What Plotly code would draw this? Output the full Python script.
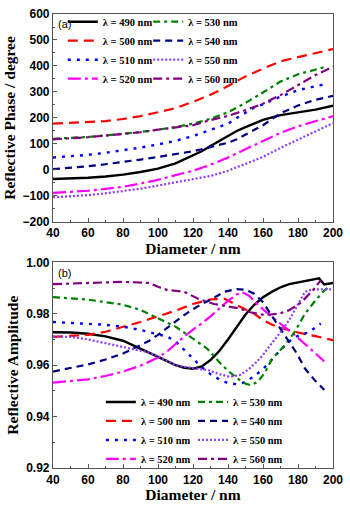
import plotly.graph_objects as go

# Panel (a): reflective phase (degree) vs diameter (nm)
phase_x = {
    490: [40, 50, 60, 70, 80, 90, 100, 110, 120, 125, 130, 135, 140, 145, 150, 155, 160, 170, 180, 190, 200],
    500: [40, 50, 60, 70, 80, 90, 100, 110, 120, 130, 140, 150, 160, 170, 180, 190, 200],
    510: [40, 50, 60, 70, 80, 90, 100, 110, 120, 130, 140, 145, 150, 155, 160, 170, 180, 188, 194],
    520: [40, 50, 60, 70, 80, 90, 100, 110, 120, 130, 140, 150, 160, 170, 180, 190, 200],
    530: [40, 50, 60, 70, 80, 90, 100, 110, 120, 130, 140, 150, 160, 170, 180, 190, 196],
    540: [40, 50, 60, 70, 80, 90, 100, 110, 120, 130, 140, 145, 150, 155, 160, 165, 170, 180, 190, 200],
    550: [40, 50, 60, 70, 80, 90, 100, 110, 120, 130, 140, 150, 160, 170, 180, 190, 200],
    560: [40, 50, 60, 70, 80, 90, 100, 110, 120, 130, 140, 150, 160, 170, 180, 190, 200],
}
phase_y = {
    490: [-35, -33, -30, -25, -18, -8, 5, 25, 55, 72, 92, 112, 132, 150, 165, 178, 193, 211, 222, 232, 247],
    500: [178, 181, 184, 188, 196, 207, 222, 238, 262, 289, 323, 360, 390, 418, 434, 450, 465],
    510: [48, 52, 58, 66, 75, 86, 98, 112, 130, 153, 178, 200, 220, 240, 253, 282, 307, 320, 328],
    520: [-88, -85, -80, -73, -65, -52, -38, -20, -3, 20, 48, 80, 112, 143, 168, 188, 207],
    530: [120, 123, 127, 133, 139, 146, 155, 165, 178, 197, 222, 258, 298, 340, 368, 388, 397],
    540: [3, 8, 14, 22, 30, 40, 50, 60, 72, 88, 105, 118, 135, 155, 172, 195, 218, 248, 270, 285],
    550: [-105, -102, -97, -90, -82, -72, -60, -47, -35, -23, -3, 22, 50, 85, 117, 150, 180],
    560: [118, 121, 126, 132, 138, 145, 155, 163, 172, 192, 208, 230, 255, 288, 327, 365, 397],
}

# Panel (b): reflective amplitude vs diameter (nm)
amp_x = {
    490: [40, 50, 60, 70, 80, 90, 100, 110, 115, 120, 125, 130, 135, 140, 145, 150, 155, 160, 165, 170, 175, 180, 186, 192, 195, 200],
    500: [40, 50, 60, 70, 80, 90, 100, 110, 120, 130, 138, 145, 150, 155, 160, 165, 170, 180, 190, 200],
    510: [40, 50, 60, 70, 80, 90, 100, 105, 110, 115, 120, 125, 130, 135, 140, 146, 150, 155, 160, 163, 170, 177, 182, 186, 193],
    520: [40, 50, 60, 70, 80, 90, 100, 105, 110, 115, 120, 125, 130, 135, 140, 145, 148, 152, 157, 165, 172, 178, 184, 190, 195],
    530: [40, 50, 60, 70, 80, 90, 100, 110, 120, 128, 136, 140, 145, 150, 153, 157, 161, 165, 173, 178, 184, 190, 195, 197],
    540: [40, 50, 60, 70, 80, 90, 95, 100, 106, 112, 119, 125, 131, 138, 145, 150, 155, 160, 165, 173, 179, 184, 190, 195],
    550: [40, 50, 60, 66, 75, 85, 94, 100, 110, 120, 129, 135, 141, 147, 152, 156, 160, 165, 170, 175, 180, 184, 188, 200],
    560: [40, 50, 60, 70, 80, 90, 95, 100, 105, 115, 123, 132, 142, 147, 152, 161, 169, 175, 182, 189, 193],
}
amp_y = {
    490: [0.9728, 0.9727, 0.9722, 0.9712, 0.9695, 0.9665, 0.9632, 0.9600, 0.9590, 0.9586, 0.9595, 0.9620, 0.9655,
          0.9700, 0.9750, 0.9797, 0.9835, 0.9864, 0.9885, 0.9903, 0.9915, 0.9921, 0.9928, 0.9938, 0.9914, 0.9920],
    500: [0.9710, 0.9714, 0.9718, 0.9730, 0.9748, 0.9768, 0.9790, 0.9812, 0.9838, 0.9856, 0.9858, 0.9835, 0.9818,
          0.9800, 0.9775, 0.9758, 0.9745, 0.9727, 0.9713, 0.9697],
    510: [0.9768, 0.9765, 0.9762, 0.9757, 0.9750, 0.9737, 0.9720, 0.9712, 0.9693, 0.9658, 0.9625, 0.9592, 0.9565,
          0.9545, 0.9530, 0.9525, 0.9535, 0.9557, 0.9585, 0.9606, 0.9660, 0.9705, 0.9720, 0.9727, 0.9762],
    520: [0.9532, 0.9538, 0.9545, 0.9558, 0.9575, 0.9598, 0.9630, 0.9652, 0.9682, 0.9712, 0.9738, 0.9762, 0.9790,
          0.9820, 0.9850, 0.9875, 0.9884, 0.9870, 0.9835, 0.9788, 0.9752, 0.9718, 0.9682, 0.9645, 0.9615],
    530: [0.9865, 0.9860, 0.9855, 0.9845, 0.9835, 0.9815, 0.9783, 0.9750, 0.9703, 0.9665, 0.9605, 0.9578, 0.9550,
          0.9528, 0.9522, 0.9535, 0.9570, 0.9622, 0.9682, 0.9728, 0.9800, 0.9852, 0.9890, 0.9900],
    540: [0.9575, 0.9588, 0.9603, 0.9622, 0.9645, 0.9678, 0.9695, 0.9718, 0.9750, 0.9780, 0.9814, 0.9838, 0.9858,
          0.9886, 0.9896, 0.9893, 0.9878, 0.9845, 0.9792, 0.9712, 0.9649, 0.9587, 0.9538, 0.9504],
    550: [0.9712, 0.9710, 0.9700, 0.9690, 0.9678, 0.9663, 0.9651, 0.9635, 0.9600, 0.9588, 0.9580, 0.9565, 0.9555,
          0.9562, 0.9585, 0.9610, 0.9640, 0.9685, 0.9728, 0.9776, 0.9835, 0.9885, 0.9895, 0.9895],
    560: [0.9915, 0.9918, 0.9920, 0.9922, 0.9924, 0.9922, 0.9920, 0.9905, 0.9893, 0.9885, 0.9858, 0.9838, 0.9825,
          0.9820, 0.9807, 0.9795, 0.9800, 0.9814, 0.9845, 0.9895, 0.9930],
}

wavelengths = [490, 500, 510, 520, 530, 540, 550, 560]
phase_ticks = [-200, -100, 0, 100, 200, 300, 400, 500, 600]
amp_ticks = [0.92, 0.94, 0.96, 0.98, 1.00]
diam_ticks = [40, 60, 80, 100, 120, 140, 160, 180, 200]

styles = {
    490: dict(color="black", dash="solid", width=2.4),
    500: dict(color="#ff0000", dash="10px,6px", width=2.2),
    510: dict(color="#0000ff", dash="3px,6px", width=2.4),
    520: dict(color="#ff00ff", dash="13px,4px,3px,4px", width=2.2),
    530: dict(color="#008000", dash="7px,4px,3px,4px", width=2.2),
    540: dict(color="#000080", dash="7px,5px", width=2.2),
    550: dict(color="#8c3cff", dash="2px,2px", width=2.2),
    560: dict(color="#800080", dash="9px,4px,3px,4px", width=2.2),
}

serif = "Liberation Serif"
sans = "Liberation Sans"

fig = go.Figure()

for i, wl in enumerate(wavelengths):
    col = 0 if i < 4 else 1
    fig.add_trace(go.Scatter(
        x=phase_x[wl], y=phase_y[wl], mode="lines", line=styles[wl],
        name=f"λ = {wl} nm", legend="legend" if col == 0 else "legend2",
        xaxis="x", yaxis="y",
    ))
    fig.add_trace(go.Scatter(
        x=amp_x[wl], y=amp_y[wl], mode="lines", line=styles[wl],
        name=f"λ = {wl} nm", legend="legend3" if col == 0 else "legend4",
        xaxis="x2", yaxis="y2",
    ))

axis_common = dict(
    showline=True, linecolor="#555", linewidth=1.2, mirror=True,
    ticks="inside", ticklen=4, tickcolor="#555",
    showgrid=False, zeroline=False,
    tickfont=dict(family=sans, size=12, color="black", weight="bold"),
    minor=dict(ticks="inside", ticklen=2, tickcolor="#555"),
)
title_font = dict(family=serif, size=15.5, color="black", weight="bold")
legend_font = dict(family=serif, size=10.5, color="black", weight="bold")
legend_common = dict(bgcolor="rgba(0,0,0,0)", font=legend_font, tracegroupgap=0, borderwidth=0)

fig.update_layout(
    width=350, height=505,
    margin=dict(l=53, r=11, t=7, b=37),
    paper_bgcolor="white", plot_bgcolor="white",
    showlegend=True,
    xaxis=dict(axis_common, domain=[0, 1], range=[40, 200], tickvals=diam_ticks, anchor="y",
               minor=dict(axis_common["minor"], dtick=10),
               title=dict(text="Diameter / nm", font=title_font, standoff=1)),
    yaxis=dict(axis_common, domain=[0.542, 1], range=[-200, 600], tickvals=phase_ticks, anchor="x",
               minor=dict(axis_common["minor"], dtick=50),
               title=dict(text="Reflective Phase / degree", font=title_font, standoff=3)),
    xaxis2=dict(axis_common, domain=[0, 1], range=[40, 200], tickvals=diam_ticks, anchor="y2",
                minor=dict(axis_common["minor"], dtick=10),
                title=dict(text="Diameter / nm", font=title_font, standoff=1)),
    yaxis2=dict(axis_common, domain=[0, 0.453], range=[0.92, 1.0], tickvals=amp_ticks, anchor="x2",
                tickformat=".2f", minor=dict(axis_common["minor"], dtick=0.01),
                title=dict(text="Reflective Amplitude", font=title_font, standoff=3)),
    legend=dict(legend_common, x=0.035, y=1.015, xanchor="left", yanchor="top"),
    legend2=dict(legend_common, x=0.34, y=1.015, xanchor="left", yanchor="top"),
    legend3=dict(legend_common, x=0.171, y=-0.012, xanchor="left", yanchor="bottom"),
    legend4=dict(legend_common, x=0.50, y=-0.012, xanchor="left", yanchor="bottom"),
    annotations=[
        dict(text="(a)", x=0.012, y=0.996, xref="paper", yref="paper", xanchor="left", yanchor="top",
             showarrow=False, font=dict(family=sans, size=11, color="black")),
        dict(text="(b)", x=0.012, y=0.447, xref="paper", yref="paper", xanchor="left", yanchor="top",
             showarrow=False, font=dict(family=sans, size=11, color="black")),
    ],
)

# drop the page's default body margin so the 350x505 figure fills the window
fig.write_html("out.html", config={"displayModeBar": False},
               post_script="document.body.style.margin = '0px';")
